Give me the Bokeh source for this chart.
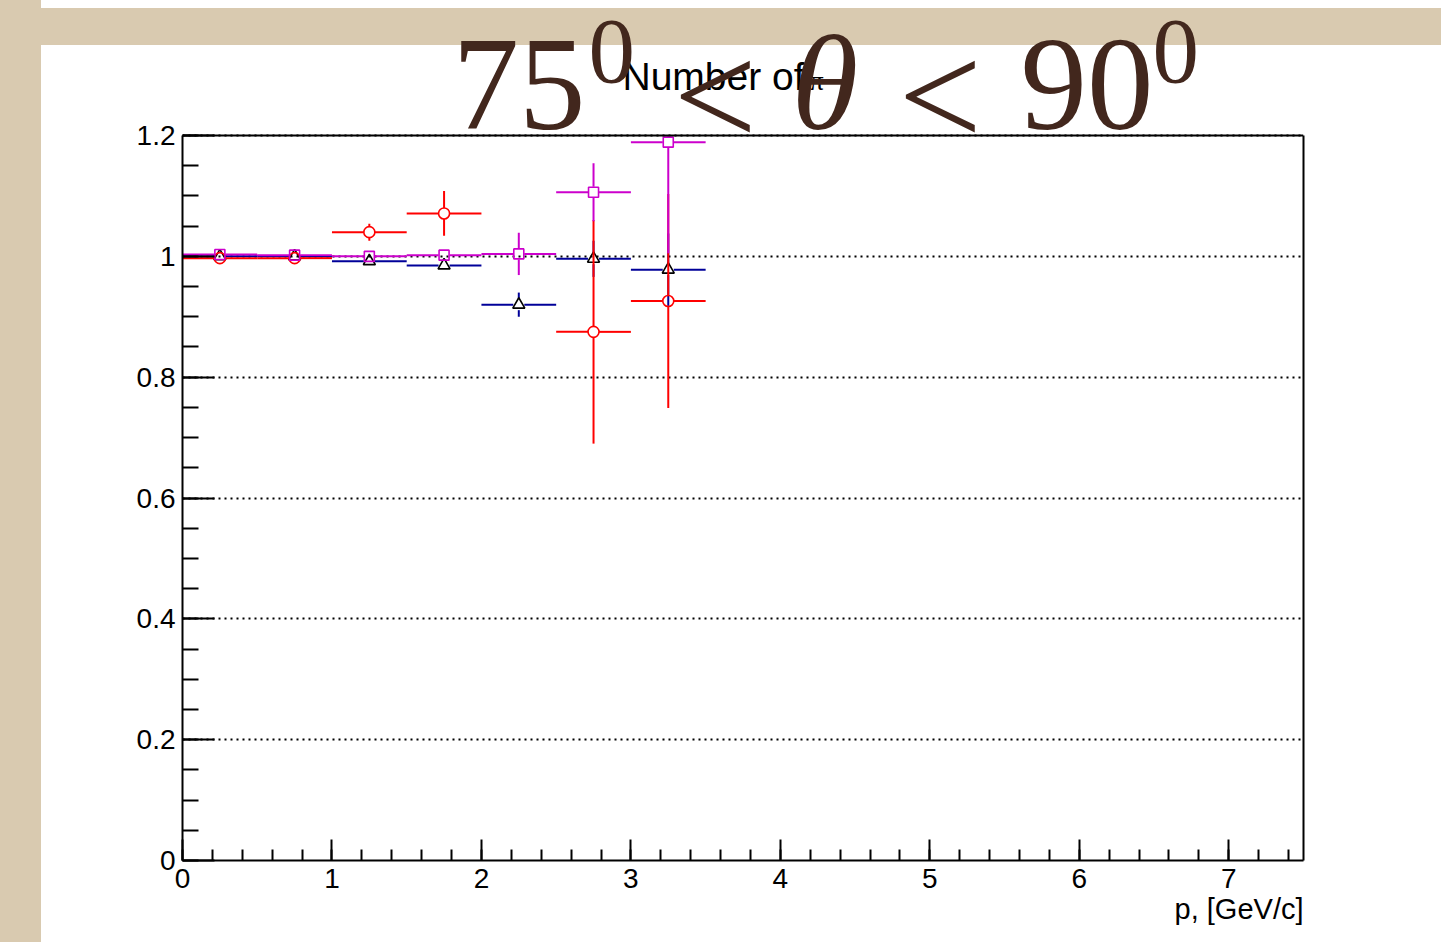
import numpy as np
from bokeh.plotting import figure
from bokeh.models import Range1d, FixedTicker, Label, Span, LinearAxis, Title
from bokeh.embed import file_html
from bokeh.resources import INLINE

# momentum bins, GeV/c
bin_edges = [0.0, 0.5, 1.0, 1.5, 2.0, 2.5, 3.0, 3.5]

# ratios per bin for the three samples (NaN = empty bin)
ratio_tri = [1.000, 1.000, 0.992, 0.985, 0.920, 0.996, 0.978]
err_tri = [0.002, 0.002, 0.004, 0.006, 0.020, 0.030, 0.060]

ratio_circ = [0.997, 0.997, 1.040, 1.071, np.nan, 0.875, 0.926]
err_circ = [0.003, 0.004, 0.014, 0.037, np.nan, 0.185, 0.177]

ratio_sq = [1.003, 1.002, 1.000, 1.002, 1.004, 1.106, 1.189]
err_sq = [0.003, 0.003, 0.005, 0.008, 0.035, 0.048, 0.184]

x_ticks = [0, 1, 2, 3, 4, 5, 6, 7]
y_ticks = [0.0, 0.2, 0.4, 0.6, 0.8, 1.0, 1.2]
y_tick_labels = {0.0: "0", 0.2: "0.2", 0.4: "0.4", 0.6: "0.6", 0.8: "0.8", 1.0: "1", 1.2: "1.2"}

X_MIN, X_MAX = 0.0, 7.5
Y_MIN, Y_MAX = 0.0, 1.2

W, H = 1441, 942
LEFT, RIGHT, BOTTOM = 182, 138, 82
AX_TOP = 135                      # canvas row of the y = 1.2 edge of the axes box
BEIGE = "#d9cab0"
TITLE_COLOR = "#42271d"

# The drawing frame reaches the top of the canvas so that the caption above the
# axes box can live inside it; the visible box is drawn by axes and a span.
px_per_y = (H - BOTTOM - AX_TOP) / (Y_MAX - Y_MIN)
y_top = Y_MAX + AX_TOP / px_per_y

p = figure(width=W, height=H, output_backend="svg", toolbar_location=None,
           x_range=Range1d(X_MIN, X_MAX), y_range=Range1d(Y_MIN, y_top),
           min_border_left=LEFT, min_border_right=RIGHT,
           min_border_top=0, min_border_bottom=BOTTOM)
# transparent canvas; the page frame (left strip, top band) comes from CSS
p.border_fill_alpha = 0
p.background_fill_alpha = 0
p.outline_line_alpha = 0
p.styles = {
    "background-image": (
        f"linear-gradient(to right, {BEIGE} 0px, {BEIGE} 41px, rgba(255,255,255,0) 41px),"
        f"linear-gradient(to bottom, white 0px, white 8px, {BEIGE} 8px, {BEIGE} 45px, white 45px)"
    ),
}

# axes
minor_x = [round(v, 2) for v in np.arange(0, 7.5001, 0.2)]
minor_y = [round(v, 2) for v in np.arange(0, 1.2001, 0.05)]
p.xaxis.ticker = FixedTicker(ticks=x_ticks, minor_ticks=minor_x)
p.yaxis.ticker = FixedTicker(ticks=y_ticks, minor_ticks=minor_y)
p.yaxis.major_label_overrides = y_tick_labels
p.yaxis.bounds = (Y_MIN, Y_MAX)
for ax in (p.xaxis[0], p.yaxis[0]):
    ax.axis_line_color = "black"
    ax.axis_line_width = 2
    ax.major_tick_line_color = "black"
    ax.minor_tick_line_color = "black"
    ax.major_tick_line_width = 2
    ax.minor_tick_line_width = 2
    ax.major_tick_out = 0
    ax.minor_tick_out = 0
    ax.major_label_text_font = "Liberation Sans"
    ax.major_label_text_font_size = "28px"
    ax.major_label_text_color = "black"
p.xaxis.major_tick_in = 21
p.xaxis.minor_tick_in = 11
p.yaxis.major_tick_in = 32
p.yaxis.minor_tick_in = 16
p.xaxis.major_label_standoff = 8
p.yaxis.major_label_standoff = 7

# right edge of the box: a bare axis line
right_edge = LinearAxis(bounds=(Y_MIN, Y_MAX), ticker=FixedTicker(ticks=[]),
                        axis_line_color="black", axis_line_width=2,
                        major_tick_in=0, major_tick_out=0,
                        minor_tick_in=0, minor_tick_out=0,
                        major_label_text_alpha=0)
p.add_layout(right_edge, "right")
# top edge of the box
p.add_layout(Span(location=Y_MAX, dimension="width", line_color="black", line_width=2))

p.xgrid.visible = False
p.ygrid.ticker = FixedTicker(ticks=y_ticks)
p.ygrid.grid_line_color = "black"
p.ygrid.grid_line_width = 1.8
p.ygrid.grid_line_dash = "2 4"

# error bars stop at the marker edge, as in ROOT, and at the box edge
px_per_x = (W - LEFT - RIGHT) / (X_MAX - X_MIN)
MARK_R = 5.5
gx = MARK_R / px_per_x
gy = MARK_R / px_per_y

edges = np.array(bin_edges)
centers = 0.5 * (edges[:-1] + edges[1:])
lo, hi = edges[:-1], edges[1:]


def draw_series(vals, errs, err_color, marker, marker_color, size):
    v = np.array(vals, dtype=float)
    e = np.array(errs, dtype=float)
    # horizontal bin extent
    p.segment(lo, v, centers - gx, v, line_color=err_color, line_width=2)
    p.segment(centers + gx, v, hi, v, line_color=err_color, line_width=2)
    # vertical error
    ok = e > gy
    up0 = np.where(ok, v + gy, np.nan)
    dn0 = np.where(ok, v - gy, np.nan)
    p.segment(centers, up0, centers, np.minimum(v + e, Y_MAX), line_color=err_color, line_width=2)
    p.segment(centers, dn0, centers, np.maximum(v - e, Y_MIN), line_color=err_color, line_width=2)
    p.scatter(centers, v, marker=marker, size=size, fill_alpha=0,
              line_color=marker_color, line_width=1.6)


draw_series(ratio_tri, err_tri, "#000099", "triangle", "black", 12)
draw_series(ratio_circ, err_circ, "#ff0000", "circle", "#ff0000", 11)
draw_series(ratio_sq, err_sq, "#cc00cc", "square", "#cc00cc", 10)

# axis title, flush with the right end of the axis
p.add_layout(Title(text="p, [GeV/c]", align="right", standoff=0,
                   text_font="Liberation Sans", text_font_size="29px",
                   text_font_style="normal", text_color="black"), "below")

# the svg text baseline lands about 0.36 em below the requested row
BASE_SHIFT = 0.36


def text_at(txt, x, baseline, size, font, color, style="normal"):
    p.add_layout(Label(x=x, y=baseline - BASE_SHIFT * size, x_units="canvas", y_units="canvas",
                       text=txt, text_align="left", text_baseline="alphabetic",
                       text_font=font, text_font_size=f"{size}px",
                       text_font_style=style, text_color=color))


# histogram title (lies underneath the angle range)
text_at("Number of", 622, 90, 39, "Liberation Sans", "black")
text_at("π", 809, 90, 28, "Liberation Serif", "black")

# angular range caption
pieces = [
    ("75", 452, 132, 133, "normal"),
    ("0", 588, 84, 93, "normal"),
    ("<", 673, 149, 148, "normal"),
    ("θ", 791, 131, 136, "italic"),
    ("<", 898, 149, 148, "normal"),
    ("90", 1020, 132, 133, "normal"),
    ("0", 1152, 84, 93, "normal"),
]
for txt, x, base, size, style in pieces:
    text_at(txt, x, base, size, "Liberation Serif", TITLE_COLOR, style=style)

open("out.html", "w").write(file_html(p, INLINE))
